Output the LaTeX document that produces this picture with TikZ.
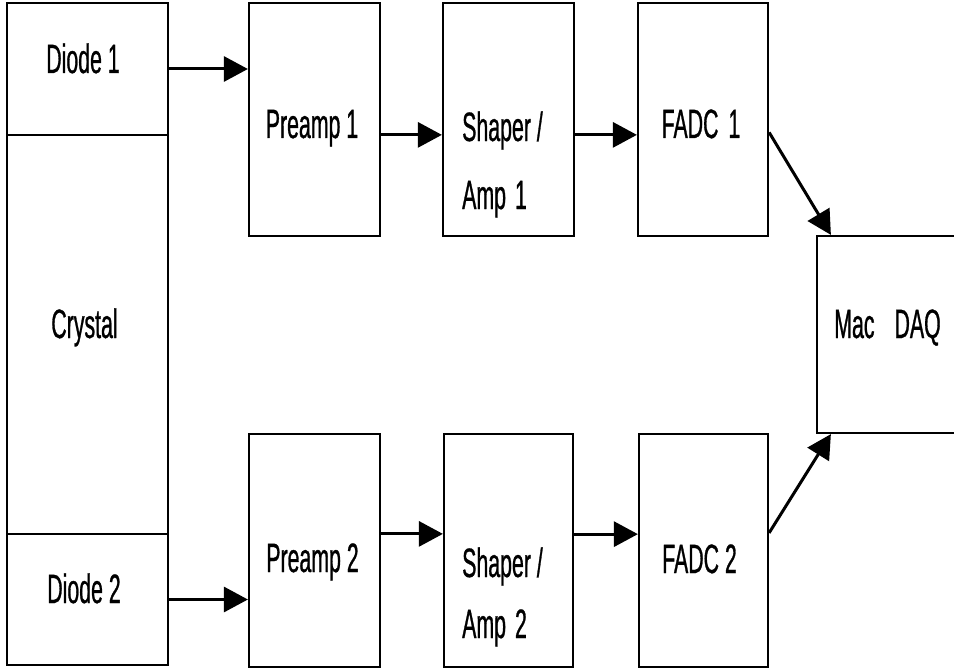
\documentclass[tikz,border=0pt]{standalone}
\usepackage{fontspec}
\setmainfont{Liberation Sans}[FakeStretch=0.52,FakeBold=0.7]
\usetikzlibrary{arrows.meta}

\begin{document}
\begin{tikzpicture}[x=1pt,y=-1pt,>={Triangle[length=24pt,width=25pt]},
	box/.style={draw,line width=2.2pt,inner sep=0pt,minimum width=131pt,minimum height=233pt},
	txt/.style={font=\fontsize{41}{48}\selectfont,anchor=base,inner sep=0pt},
	arr/.style={->,line width=3pt}]
		
		\useasboundingbox (0,0) rectangle (954,669);
		\clip (0,0) rectangle (954,669);
		
		\node[box,minimum width=161pt,minimum height=132pt] (diode1) at (87.5,69) {};
		\node[box,minimum width=161pt,minimum height=399pt] (crystal) at (87.5,334.5) {};
		\node[box,minimum width=161pt,minimum height=131pt] (diode2) at (87.5,599.5) {};
		
		\node[box] (preamp1) at (314.5,119.5) {};
		\node[box] (shaper1) at (508.5,119.5) {};
		\node[box,minimum width=130pt] (fadc1) at (703,119.5) {};
		
		\node[box] (preamp2) at (314.5,550.5) {};
		\node[box,minimum width=129pt] (shaper2) at (508.5,550.5) {};
		\node[box,minimum width=129pt] (fadc2) at (703.5,550.5) {};
		
		\node[box,minimum width=183pt,minimum height=197pt] (mac) at (908.5,334.5) {};
		
		\node[txt] (t-diode1) at (83,73) {Diode 1};
		\node[txt] (t-crystal) at (84.5,338) {Crystal};
		\node[txt] (t-diode2) at (84,603) {Diode 2};
		\node[txt] (t-preamp1) at (312,138) {Preamp 1};
		\node[txt,anchor=base west] (t-shaper1) at (462,141) {Shaper /};
		\node[txt,anchor=base west] (t-amp1) at (462,209) {Amp\hspace{9pt}1};
		\node[txt] (t-fadc1) at (701,138) {FADC\hspace{10pt}1};
		\node[txt] (t-preamp2) at (312.5,572) {Preamp 2};
		\node[txt,anchor=base west] (t-shaper2) at (462,577) {Shaper /};
		\node[txt,anchor=base west] (t-amp2) at (462,638) {Amp\hspace{9pt}2};
		\node[txt] (t-fadc2) at (699.5,573) {FADC 2};
		\node[txt] (t-mac) at (887.5,338) {Mac\hspace{20pt}DAQ};
		
		\draw[arr] (diode1.east) -- (diode1.east -| preamp1.west);
		\draw[arr] (preamp1.-13.3) -- (preamp1.-13.3 -| shaper1.west);
		\draw[arr] (shaper1.-13.3) -- (shaper1.-13.3 -| fadc1.west);
		\draw[arr] (fadc1.-11.7) -- ([xshift=15pt]mac.north west);
		
		\draw[arr] (diode2.east) -- (diode2.east -| preamp2.west);
		\draw[arr] (preamp2.14.1) -- (preamp2.14.1 -| shaper2.west);
		\draw[arr] (shaper2.14.1) -- (shaper2.14.1 -| fadc2.west);
		\draw[arr] (fadc2.15.9) -- ([xshift=15pt]mac.south west);
	\end{tikzpicture}
\end{document}
